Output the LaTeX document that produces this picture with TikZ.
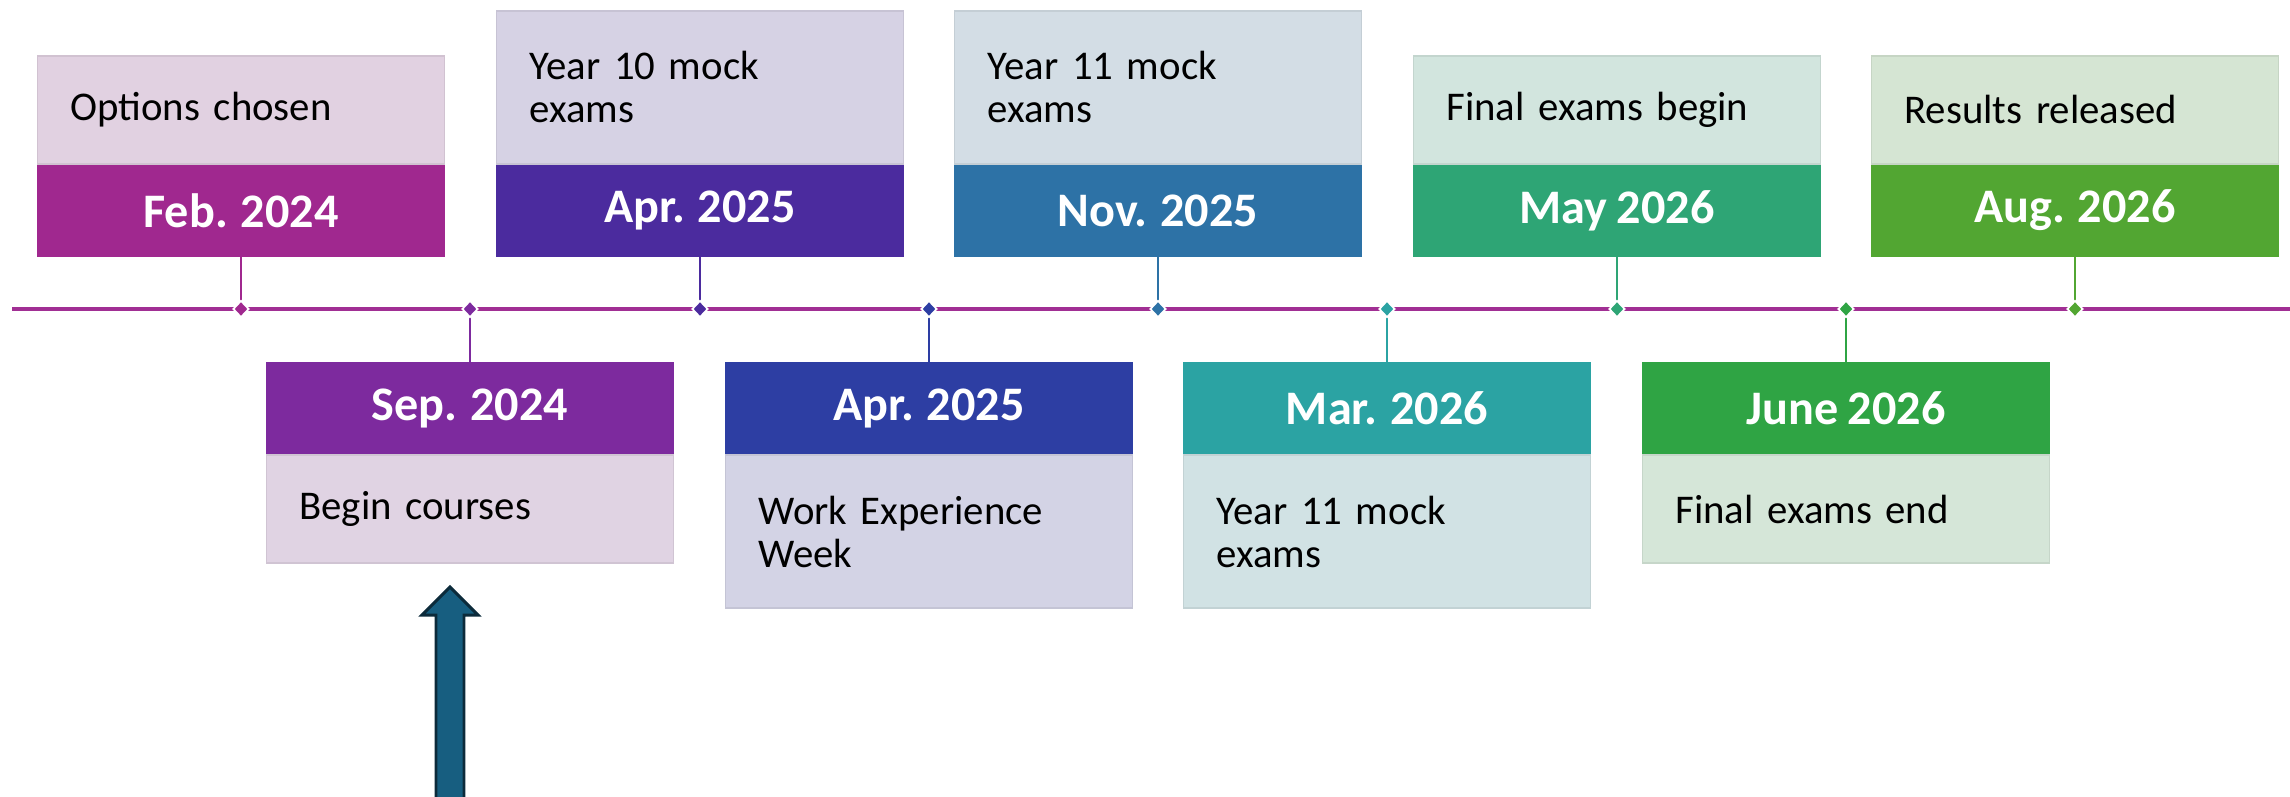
\documentclass[tikz,border=0pt]{standalone}
\usepackage{fontspec}
\setmainfont[WordSpace=0.85]{Carlito}
\usetikzlibrary{shapes.geometric,positioning}

\definecolor{cLine}{HTML}{A12F94}
\definecolor{cFeb}{HTML}{A0288F}  \definecolor{lFeb}{HTML}{E1D1E1}
\definecolor{cSep}{HTML}{7D2A9E}  \definecolor{lSep}{HTML}{E0D3E3}
\definecolor{cAprA}{HTML}{4B2B9E} \definecolor{lAprA}{HTML}{D6D2E4}
\definecolor{cAprB}{HTML}{2D3EA3} \definecolor{lAprB}{HTML}{D3D3E5}
\definecolor{cNov}{HTML}{2D72A6}  \definecolor{lNov}{HTML}{D3DDE5}
\definecolor{cMar}{HTML}{2BA3A3}  \definecolor{lMar}{HTML}{D1E2E4}
\definecolor{cMay}{HTML}{2EA575}  \definecolor{lMay}{HTML}{D2E5DE}
\definecolor{cJun}{HTML}{2FA444}  \definecolor{lJun}{HTML}{D5E6D8}
\definecolor{cAug}{HTML}{52A632}  \definecolor{lAug}{HTML}{D5E5D3}
\definecolor{cArrow}{HTML}{175E80}
\definecolor{dArrow}{HTML}{0C2B3B}

\newcommand{\datefont}{\bfseries\fontsize{13.7}{15}\selectfont}
\newcommand{\notefont}{\fontsize{11.6}{12.24}\selectfont}

\tikzset
{
    dateband/.style = {rectangle, fill=#1, text=white, font=\datefont, minimum width=4.07cm, minimum height=0.93cm, inner sep=0pt, outer sep=0pt},
    notebox/.style  = {rectangle, fill=#1, draw=#1!93!black, line width=0.4pt, font=\notefont, align=left, text width=3.41cm, inner xsep=0.33cm, inner ysep=0pt, outer sep=0pt},
    dia/.style      = {diamond, fill=#1, draw=white, line width=0.5pt, inner sep=0pt, minimum width=0.16cm, minimum height=0.17cm},
    link/.style     = {draw=#1, line width=0.55pt},
    timeline/.style = {draw=cLine, line width=1.15pt}
}

\newcommand\LineY{309}
\newcommand\TopY{210.5}
\newcommand\BotY{408.5}

\begin{document}
\begin{tikzpicture}[x=0.01cm, y=-0.01cm]
\useasboundingbox (0,0) rectangle (2290,797);

\coordinate (tl0) at (12,\LineY);
\coordinate (tl1) at (2290,\LineY);
\draw[timeline] (tl0) -- (tl1);

\node (feb)   [dateband=cFeb]   at (241,\TopY)   {Feb. 2024};
\node (febt)  [notebox=lFeb, minimum height=1.08cm, above=0pt of feb]   {Options chosen};
\node (sep)   [dateband=cSep]   at (470,\BotY)   {Sep. 2024};
\node (sept)  [notebox=lSep, minimum height=1.08cm, below=0pt of sep]   {Begin courses};
\node (apra)  [dateband=cAprA]  at (700,\TopY)   {Apr. 2025};
\node (aprat) [notebox=lAprA, minimum height=1.53cm, above=0pt of apra] {Year 10 mock\\exams};
\node (aprb)  [dateband=cAprB]  at (929,\BotY)   {Apr. 2025};
\node (aprbt) [notebox=lAprB, minimum height=1.53cm, below=0pt of aprb] {Work Experience\\Week};
\node (nov)   [dateband=cNov]   at (1158,\TopY)  {Nov. 2025};
\node (novt)  [notebox=lNov, minimum height=1.53cm, above=0pt of nov]   {Year 11 mock\\exams};
\node (mar)   [dateband=cMar]   at (1387,\BotY)  {Mar. 2026};
\node (mart)  [notebox=lMar, minimum height=1.53cm, below=0pt of mar]   {Year 11 mock\\exams};
\node (may)   [dateband=cMay]   at (1617,\TopY)  {May 2026};
\node (mayt)  [notebox=lMay, minimum height=1.08cm, above=0pt of may]   {Final exams begin};
\node (jun)   [dateband=cJun]   at (1846,\BotY)  {June 2026};
\node (junt)  [notebox=lJun, minimum height=1.08cm, below=0pt of jun]   {Final exams end};
\node (aug)   [dateband=cAug]   at (2075,\TopY)  {Aug. 2026};
\node (augt)  [notebox=lAug, minimum height=1.08cm, above=0pt of aug]   {Results released};

\path
(feb)   edge[link=cFeb]   (241,\LineY)
(sep)   edge[link=cSep]   (470,\LineY)
(apra)  edge[link=cAprA]  (700,\LineY)
(aprb)  edge[link=cAprB]  (929,\LineY)
(nov)   edge[link=cNov]   (1158,\LineY)
(mar)   edge[link=cMar]   (1387,\LineY)
(may)   edge[link=cMay]   (1617,\LineY)
(jun)   edge[link=cJun]   (1846,\LineY)
(aug)   edge[link=cAug]   (2075,\LineY);

\node (febd)  [dia=cFeb]  at (241,\LineY)  {};
\node (sepd)  [dia=cSep]  at (470,\LineY)  {};
\node (aprad) [dia=cAprA] at (700,\LineY)  {};
\node (aprbd) [dia=cAprB] at (929,\LineY)  {};
\node (novd)  [dia=cNov]  at (1158,\LineY) {};
\node (mard)  [dia=cMar]  at (1387,\LineY) {};
\node (mayd)  [dia=cMay]  at (1617,\LineY) {};
\node (jund)  [dia=cJun]  at (1846,\LineY) {};
\node (augd)  [dia=cAug]  at (2075,\LineY) {};

% block arrow pointing at the courses box
\draw[fill=cArrow, draw=dArrow, line width=0.85pt, line join=miter]
(436,805) -- (436,615) -- (422,615) -- (450,587) -- (478,615) -- (464,615) -- (464,805) -- cycle;

\end{tikzpicture}
\end{document}
